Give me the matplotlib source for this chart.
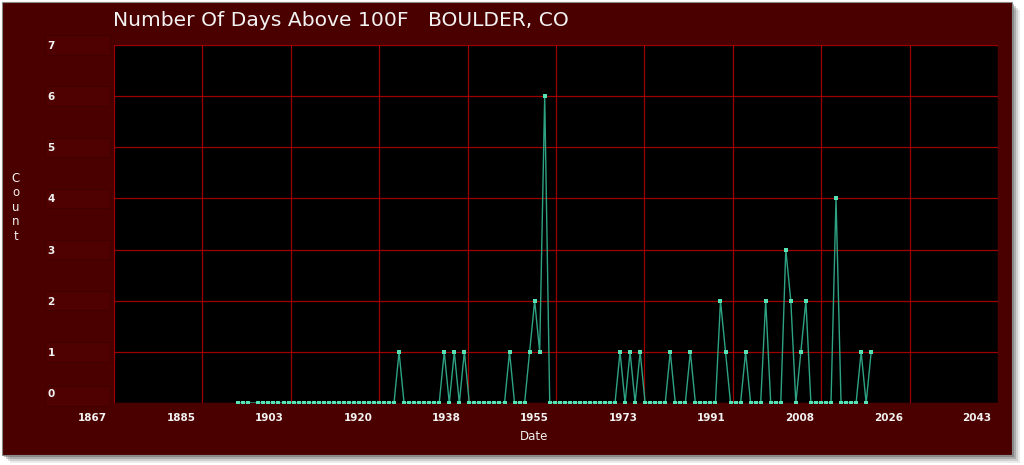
import matplotlib
matplotlib.use("Agg")
import matplotlib.pyplot as plt
from matplotlib.patches import Rectangle
from matplotlib.transforms import ScaledTranslation, blended_transform_factory

# -----------------------
# Data (1896 has no record)
# -----------------------
years = [y for y in range(1893, 2020) if y != 1896]
counts = [
    0, 0, 0,                                   # 1893-1895
    0, 0, 0, 0, 0, 0, 0, 0, 0, 0,              # 1897-1906
    0, 0, 0, 0, 0, 0, 0, 0, 0, 0,              # 1907-1916
    0, 0, 0, 0, 0, 0, 0, 0,                    # 1917-1924
    1, 0, 0, 0, 0, 0, 0, 0, 0,                 # 1925-1933
    1, 0, 1, 0, 1,                             # 1934-1938
    0, 0, 0, 0, 0, 0, 0, 0,                    # 1939-1946
    1, 0, 0, 0, 1, 2, 1, 6,                    # 1947-1954
    0, 0, 0, 0, 0, 0, 0, 0, 0, 0, 0, 0, 0, 0,  # 1955-1968
    1, 0, 1, 0, 1,                             # 1969-1973
    0, 0, 0, 0, 0, 1, 0, 0, 0, 1,              # 1974-1983
    0, 0, 0, 0, 0, 2, 1, 0, 0, 0,              # 1984-1993
    1, 0, 0, 0, 2, 0, 0, 0, 3, 2,              # 1994-2003
    0, 1, 2, 0, 0, 0, 0, 0, 4, 0,              # 2004-2013
    0, 0, 0, 1, 0, 1,                          # 2014-2019
]

x_start = 1868.25
x_step = 17.6
x_labels = ["1867", "1885", "1903", "1920", "1938", "1955",
            "1973", "1991", "2008", "2026", "2043"]
y_ticks = list(range(8))

title = "Number Of Days Above 100F   BOULDER, CO"

# -----------------------
# Colours
# -----------------------
panel = "#4b0000"
grid_red = "#9e0000"
line_col = "#2ea383"
marker_col = "#55e3b6"
txt = "#f2f2f2"

W, H = 1024, 465
fig = plt.figure(figsize=(W / 100, H / 100), dpi=100, facecolor="white")

# panel with a soft shadow (kept behind the axes)
for i, a in enumerate([0.10, 0.16, 0.24, 0.34]):
    off = 8 - i * 2
    fig.patches.append(Rectangle((2 / W + off / W, 1 - 455 / H - off / H),
                                 1010 / W, 453 / H, transform=fig.transFigure,
                                 facecolor="#404040", alpha=a, edgecolor="none", zorder=-5))
fig.patches.append(Rectangle((2 / W, 1 - 455 / H), 1010 / W, 453 / H,
                             transform=fig.transFigure, facecolor=panel,
                             edgecolor="#8a8a8a", linewidth=0.8, zorder=-4))

ax = fig.add_axes([114 / W, 1 - 403 / H, (998 - 114) / W, (403 - 45) / H])
ax.set_facecolor("black")

ax.plot(years, counts, color=line_col, linewidth=1.0, zorder=3)
ax.plot(years, counts, linestyle="none", marker="s", markersize=2.6,
        color=marker_col, markeredgewidth=0, zorder=4)

x_ticks = [x_start + x_step * i for i in range(len(x_labels))]
ax.set_xlim(x_ticks[0], x_ticks[-1])
ax.set_ylim(0, 7)
ax.set_xticks(x_ticks)
ax.set_xticklabels(x_labels)
ax.set_yticks(y_ticks)
ax.set_yticklabels([str(v) for v in y_ticks])

ax.grid(True, color=grid_red, linewidth=0.9, zorder=1)
ax.set_axisbelow(True)
for s in ax.spines.values():
    s.set_visible(False)

ax.tick_params(axis="both", length=0, colors=txt, labelsize=7.5)
ax.tick_params(axis="x", pad=7)
ax.tick_params(axis="y", pad=48)
for lab in ax.get_yticklabels():
    lab.set_ha("left")
    lab.set_fontweight("bold")
# the bottom label sits a little higher, as in the source chart
ax.get_yticklabels()[0].set_transform(
    ax.get_yticklabels()[0].get_transform()
    + ScaledTranslation(0, 7 / 72, fig.dpi_scale_trans))
for lab in ax.get_xticklabels():
    lab.set_ha("right")
    lab.set_fontweight("bold")
    lab.set_transform(lab.get_transform() + ScaledTranslation(-5 / 72, 0, fig.dpi_scale_trans))

# faint boxes behind the y tick labels
bt = blended_transform_factory(fig.transFigure, ax.transData)
for v in y_ticks:
    lift = 0.14 if v == 0 else 0.0
    fig.patches.append(Rectangle((45 / W, v - 0.19 + lift), 65 / W, 0.38, transform=bt,
                                 facecolor="#4f0101", edgecolor="#3e0000",
                                 linewidth=0.6, zorder=-3))

fig.text(113 / W, 1 - 21 / H, title, color=txt, fontsize=14.6,
         family="DejaVu Sans", ha="left", va="center")
fig.text(16 / W, 1 - 207 / H, "C\no\nu\nn\nt", color=txt, fontsize=8.5,
         ha="center", va="center", linespacing=1.15)
fig.text(534 / W, 1 - 436 / H, "Date", color=txt, fontsize=8.5,
         ha="center", va="center")

fig.savefig("out.png", dpi=100, facecolor=fig.get_facecolor())
